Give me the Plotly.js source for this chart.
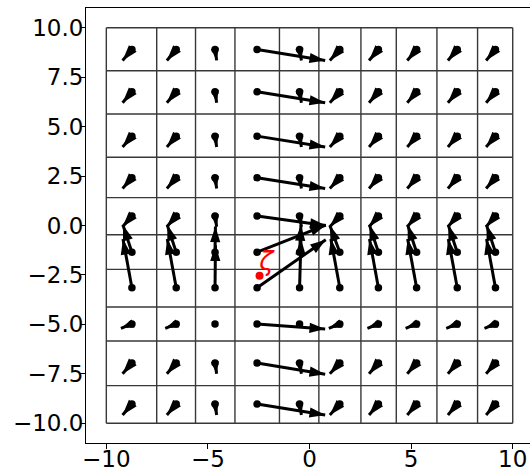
<!DOCTYPE html>
<html><head><meta charset="utf-8">
<script src="https://cdn.plot.ly/plotly-3.0.1.min.js"></script>
<style>html,body{margin:0;padding:0;background:#fff}</style>
</head><body>
<div id="chart" style="width:530px;height:467px"></div>
<script>
// grid cell edges
const xEdges = [-10, -7.52, -5.61, -3.67, -1.48, 0.46, 2.53, 4.27, 6.27, 8.27, 10];
const yEdges = [10, 7.83, 5.64, 3.45, 1.41, -0.47, -2.22, -4.12, -5.84, -8.1, -10];
// arrow tails (cell centres)
const tailX = [-8.74, -6.56, -4.65, -2.58, -0.49, 1.49, 3.39, 5.27, 7.27, 9.15];
const tailY = [8.9, 6.76, 4.52, 2.42, 0.48, -1.35, -3.15, -4.98, -6.95, -9.03];
// arrow heads, one row per tailY
const headX = [
  [-9.2, -7.02, -4.57, 0.77, -0.40, 1.0, 2.93, 4.81, 6.81, 8.69],
  [-9.2, -7.02, -4.57, 0.77, -0.40, 1.0, 2.93, 4.81, 6.81, 8.69],
  [-9.2, -7.02, -4.57, 0.77, -0.40, 1.0, 2.93, 4.81, 6.81, 8.69],
  [-9.2, -7.02, -4.57, 0.77, -0.40, 1.0, 2.93, 4.81, 6.81, 8.69],
  [-9.2, -7.02, -4.57, 0.80, -0.40, 1.0, 2.93, 4.81, 6.81, 8.69],
  [-9.18, -7.0, -4.63, 0.80, -0.42, 1.0, 2.95, 4.83, 6.83, 8.71],
  [-9.18, -7.0, -4.63, 0.80, -0.42, 1.05, 2.95, 4.83, 6.83, 8.71],
  [-9.28, -7.1, -4.63, 0.77, -0.42, 0.95, 2.85, 4.73, 6.73, 8.61],
  [-9.2, -7.02, -4.57, 0.77, -0.40, 1.0, 2.93, 4.81, 6.81, 8.69],
  [-9.2, -7.02, -4.57, 0.77, -0.40, 1.0, 2.93, 4.81, 6.81, 8.69]
];
const headY = [
  [8.35, 8.35, 8.35, 8.35, 8.35, 8.35, 8.35, 8.35, 8.35, 8.35],
  [6.21, 6.21, 6.21, 6.21, 6.21, 6.21, 6.21, 6.21, 6.21, 6.21],
  [3.97, 3.97, 3.97, 3.97, 3.97, 3.97, 3.97, 3.97, 3.97, 3.97],
  [1.87, 1.87, 1.87, 1.87, 1.87, 1.87, 1.87, 1.87, 1.87, 1.87],
  [-0.06, -0.06, -0.06, 0.0, -0.06, -0.06, -0.06, -0.06, -0.06, -0.06],
  [0.02, 0.02, -0.05, 0.02, 0.02, 0.0, 0.02, 0.02, 0.02, 0.02],
  [-0.68, -0.68, -1.0, -0.72, -0.68, -0.68, -0.68, -0.68, -0.68, -0.68],
  [-5.2, -5.2, -5.02, -5.24, -5.1, -5.2, -5.2, -5.2, -5.2, -5.2],
  [-7.5, -7.5, -7.5, -7.52, -7.5, -7.5, -7.5, -7.5, -7.5, -7.5],
  [-9.58, -9.58, -9.58, -9.58, -9.58, -9.58, -9.58, -9.58, -9.58, -9.58]
];
const pointX = [-2.46];
const pointY = [-2.54];
const pointLabel = ['ζ'];
const labelX = [-2.12];
const labelY = [-1.92];
const xTickVals = [-10, -5, 0, 5, 10];
const xTickText = ['\u221210', '\u22125', '0', '5', '10'];
const yTickVals = [10, 7.5, 5, 2.5, 0, -2.5, -5, -7.5, -10];
const yTickText = ['10.0', '7.5', '5.0', '2.5', '0.0', '\u22122.5', '\u22125.0', '\u22127.5', '\u221210.0'];

// grid
const gx = [], gy = [];
xEdges.forEach(v => { gx.push(v, v, null); gy.push(yEdges[0], yEdges[yEdges.length - 1], null); });
yEdges.forEach(v => { gy.push(v, v, null); gx.push(xEdges[0], xEdges[xEdges.length - 1], null); });

// arrows: shafts, heads (oriented markers), tails
const PXX = 20.3, PXY = 19.8; // approx pixels per data unit, only for head size/orientation
const HEADLEN = 0.95;          // rendered head length per unit of marker size
const MAXHEAD = 16.5;
const sx = [], sy = [], sb = [];
const hx = [], hy = [], hs = [], ha = [];
const tx = [], ty = [];
for (let i = 0; i < tailY.length; i++) {
  for (let j = 0; j < tailX.length; j++) {
    const x0 = tailX[j], y0 = tailY[i], x1 = headX[i][j], y1 = headY[i][j];
    const dxp = (x1 - x0) * PXX, dyp = (y1 - y0) * PXY;
    const len = Math.hypot(dxp, dyp);
    const size = Math.min(MAXHEAD, len / 0.86);
    sx.push(x0, x1, null); sy.push(y0, y1, null); sb.push(0, size * HEADLEN * 0.5, 0);
    hx.push(x1); hy.push(y1); hs.push(size); ha.push(Math.atan2(dxp, dyp) * 180 / Math.PI);
    tx.push(x0); ty.push(y0);
  }
}

const traces = [
  {type: 'scatter', mode: 'lines', x: gx, y: gy, line: {color: '#383838', width: 1.4}, hoverinfo: 'skip'},
  {type: 'scatter', mode: 'lines', x: sx, y: sy, connectgaps: false,
   line: {color: '#000', width: 3, backoff: sb}, hoverinfo: 'skip'},
  {type: 'scatter', mode: 'markers', x: hx, y: hy,
   marker: {symbol: 'arrow', size: hs, angle: ha, color: '#000', opacity: 1, line: {width: 0}}, hoverinfo: 'skip'},
  {type: 'scatter', mode: 'markers', x: tx, y: ty, marker: {symbol: 'circle', size: 7.5, color: '#000', line: {width: 0}}, hoverinfo: 'skip'},
  {type: 'scatter', mode: 'markers', x: pointX, y: pointY, marker: {symbol: 'circle', size: 8, color: '#ff0000', line: {width: 0}}, hoverinfo: 'skip'},
  {type: 'scatter', mode: 'text', x: labelX, y: labelY, text: pointLabel.map(s => '<i>' + s + '</i>'),
   textfont: {family: 'DejaVu Sans', size: 26, color: '#ff0000'}, textposition: 'middle center', hoverinfo: 'skip'}
];

const tf = {family: 'DejaVu Sans', size: 23, color: '#000'};
const layout = {
  width: 530, height: 467,
  margin: {l: 86, r: 0, t: 8, b: 24},
  paper_bgcolor: '#fff', plot_bgcolor: '#fff',
  showlegend: false,
  font: tf,
  xaxis: {range: [-11, 10.85], showgrid: false, zeroline: false, showline: true, mirror: true,
          linecolor: '#000', linewidth: 1, ticks: 'outside', ticklen: 5, tickwidth: 1, tickcolor: '#000',
          tickmode: 'array', tickvals: xTickVals, ticktext: xTickText, automargin: false,
          ticklabelstandoff: -10, tickfont: tf},
  yaxis: {range: [-11, 11], showgrid: false, zeroline: false, showline: true, mirror: false,
          linecolor: '#000', linewidth: 1, ticks: 'outside', ticklen: 5, tickwidth: 1, tickcolor: '#000',
          tickmode: 'array', tickvals: yTickVals, ticktext: yTickText, automargin: false,
          ticklabelstandoff: -8, tickfont: tf}
};
Plotly.newPlot('chart', traces, layout, {staticPlot: true, displayModeBar: false});
</script>
</body></html>
